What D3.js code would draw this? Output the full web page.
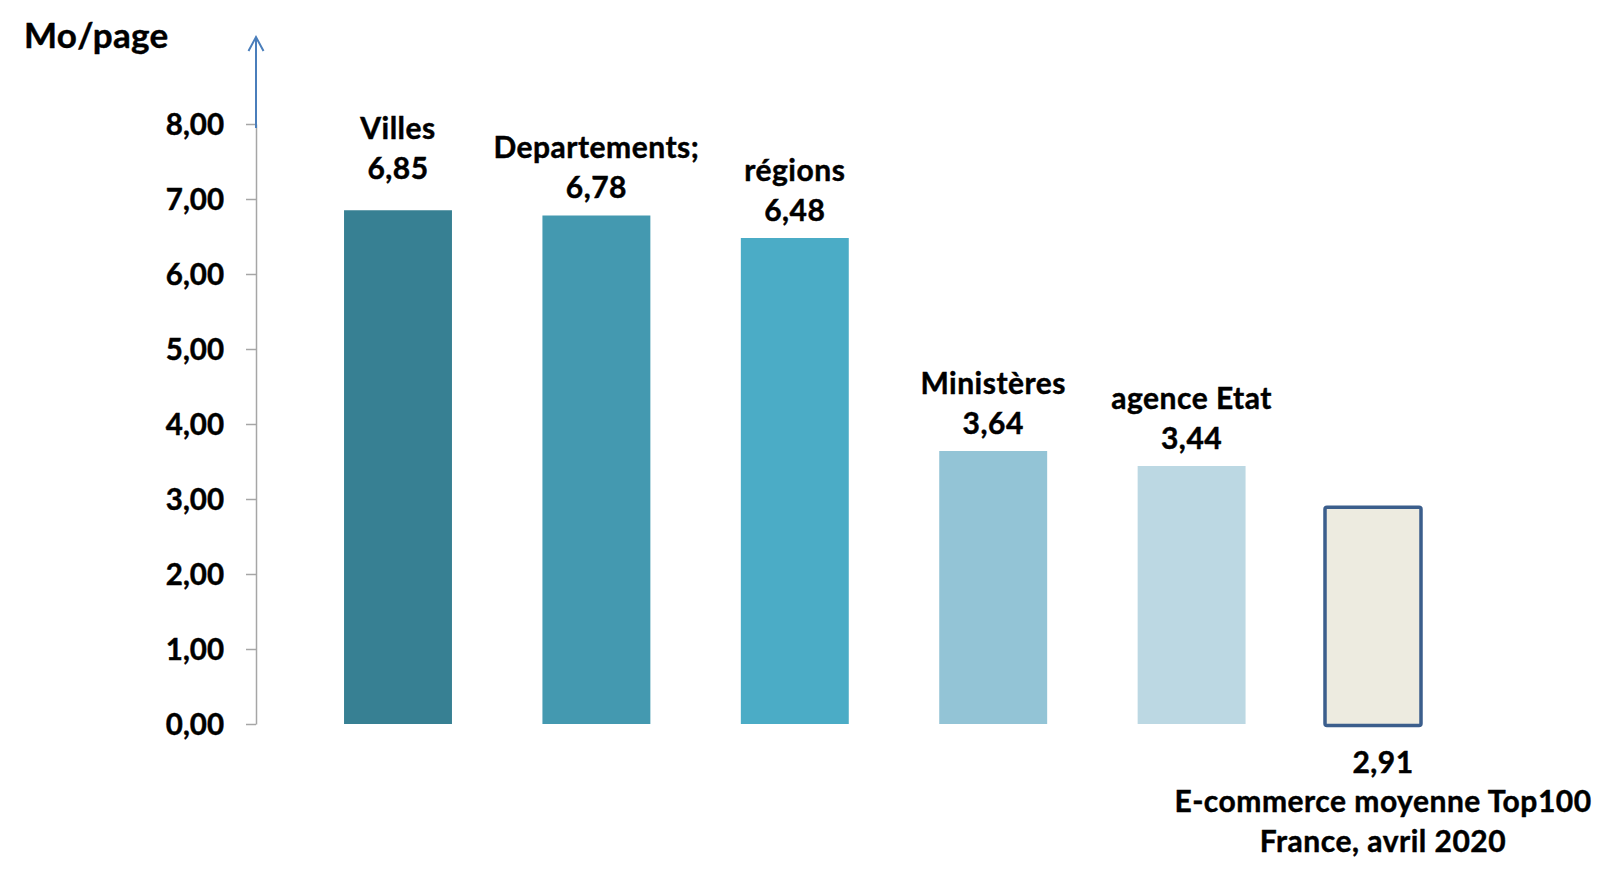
<!DOCTYPE html>
<html>
<head>
<meta charset="utf-8">
<script src="https://cdn.jsdelivr.net/npm/d3@7"></script>
<style>
  html, body { margin: 0; padding: 0; background: #ffffff; }
  svg { display: block; }
  text { font-family: Lato, "Open Sans", sans-serif; font-weight: 700; fill: #000; stroke: #000; stroke-width: 0.45px; }
</style>
</head>
<body>
<svg id="chart" width="1620" height="881"></svg>
<script>
// ---- data ----
const categories = ["Villes", "Departements;", "régions", "Ministères", "agence Etat", "E-commerce moyenne Top100\nFrance, avril 2020"];
const values = [6.85, 6.78, 6.48, 3.64, 3.44, 2.91];
const yTicks = [0, 1, 2, 3, 4, 5, 6, 7, 8];
const yTitle = "Mo/page";
const barColors = ["#378093", "#4499B0", "#4BACC6", "#93C4D6", "#BCD8E3", "#EDEBE0"];

// ---- layout ----
const svg = d3.select("#chart");
const fr = d3.formatLocale({decimal: ",", thousands: " ", grouping: [3], currency: ["", "€"]});
const fmt = fr.format(".2f");
const labelSize = 30, labelSpacing = "0.5px";

const y = d3.scaleLinear().domain([0, 8]).range([724, 124]);
const x = d3.scaleBand().domain(categories).range([298.8, 1489.2]).paddingInner(0.456).paddingOuter(0.228);

const refIndex = values.length - 1;  // benchmark bar drawn with outline
const refShift = -17, refWidth = 96;

// y axis
const axisG = svg.append("g").attr("transform", "translate(256,0)");
axisG.call(d3.axisLeft(y).tickValues(yTicks).tickSize(10).tickSizeOuter(0).tickPadding(22).tickFormat(fmt));
axisG.select(".domain").attr("stroke", "#A6A6A6").attr("stroke-width", 1.5);
axisG.selectAll(".tick line").attr("stroke", "#A6A6A6").attr("stroke-width", 1.5);
axisG.selectAll(".tick text")
  .attr("font-family", "Lato, 'Open Sans', sans-serif")
  .attr("font-weight", 700)
  .attr("font-size", 29.5)
  .attr("fill", "#000")
  .attr("dy", "0.35em");

// blue arrow extending the axis
const arrowTop = 37;
svg.append("line")
  .attr("x1", 256).attr("x2", 256)
  .attr("y1", y(8) + 4).attr("y2", arrowTop + 1)
  .attr("stroke", "#4A7EBB").attr("stroke-width", 2);
svg.append("path")
  .attr("d", `M${256 - 7.5},${arrowTop + 14} L256,${arrowTop} L${256 + 7.5},${arrowTop + 14}`)
  .attr("fill", "none").attr("stroke", "#4A7EBB").attr("stroke-width", 2);

// title
svg.append("text").attr("x", 24).attr("y", 48).attr("font-size", 35).attr("letter-spacing", "0.3px").text(yTitle);

// bars
const bars = svg.append("g");
categories.forEach((c, i) => {
  const v = values[i];
  if (i === refIndex) {
    const cx = x(c) + x.bandwidth() / 2 + refShift;
    bars.append("rect")
      .attr("x", cx - refWidth / 2).attr("y", y(v) + 1.5)
      .attr("width", refWidth).attr("height", y(0) - y(v))
      .attr("rx", 2).attr("ry", 2)
      .attr("fill", barColors[i]).attr("stroke", "#3B5E8C").attr("stroke-width", 3.5);
  } else {
    bars.append("rect")
      .attr("x", x(c)).attr("y", y(v))
      .attr("width", x.bandwidth()).attr("height", y(0) - y(v))
      .attr("fill", barColors[i]);
  }
});

// labels
const lineH = 40;
const labels = svg.append("g").attr("font-size", labelSize).attr("letter-spacing", labelSpacing).attr("text-anchor", "middle");
categories.forEach((c, i) => {
  const v = values[i];
  const lines = c.split("\n");
  const cx = x(c) + x.bandwidth() / 2;
  if (i === refIndex) {
    const lx = cx + refShift + 10;
    const base = y(0) + 48.5;
    labels.append("text").attr("x", lx).attr("y", base).text(fmt(v));
    lines.forEach((ln, k) => {
      labels.append("text").attr("x", lx).attr("y", base + 39.5 * (k + 1)).text(ln);
    });
  } else {
    const gap = i === 0 ? 31 : 17.5;
    const base = y(v) - gap;
    labels.append("text").attr("x", cx).attr("y", base).text(fmt(v));
    lines.slice().reverse().forEach((ln, k) => {
      labels.append("text").attr("x", cx).attr("y", base - lineH * (k + 1)).text(ln);
    });
  }
});
</script>
</body>
</html>
